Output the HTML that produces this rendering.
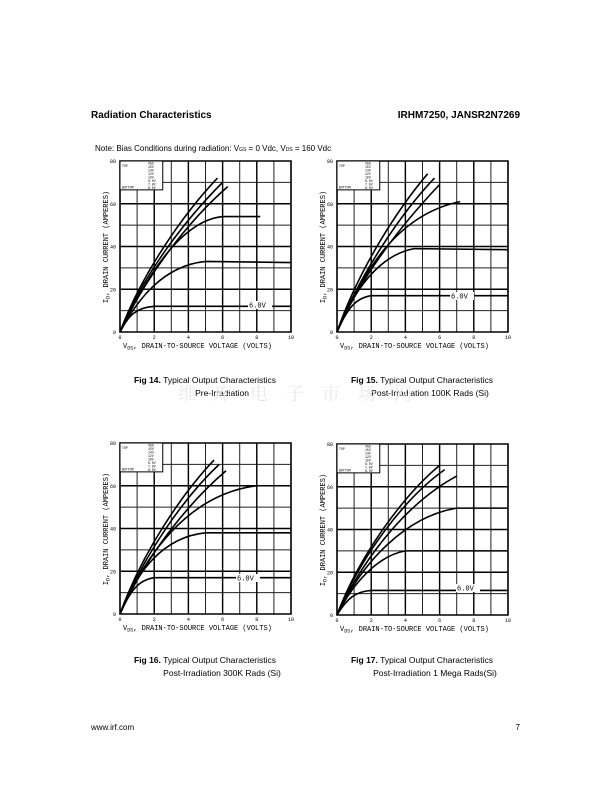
<!DOCTYPE html>
<html><head><meta charset="utf-8"><style>
html,body{margin:0;padding:0;background:#fff}
svg{display:block}
.h{font-family:"Liberation Sans",sans-serif;font-weight:bold;font-size:10px}
.n{font-family:"Liberation Sans",sans-serif;font-size:8px}
.c{font-family:"Liberation Sans",sans-serif;font-size:8.5px}
.t{font-family:"Liberation Mono",monospace;font-size:5px}
.ax{font-family:"Liberation Mono",monospace;font-size:7px}
.lg{font-family:"Liberation Mono",monospace;font-size:3.2px}
.g path{vector-effect:non-scaling-stroke}
</style></head><body>
<svg width="612" height="792" viewBox="0 0 612 792" xmlns="http://www.w3.org/2000/svg">
<defs>
<g id="grid" class="g">
<path d="M1 0V80M2 0V80M3 0V80M4 0V80M5 0V80M6 0V80M7 0V80M8 0V80M9 0V80M0 10H10M0 20H10M0 30H10M0 40H10M0 50H10M0 60H10M0 70H10" stroke="#222" stroke-width="1" fill="none"/>
<path d="M2 0V80M4 0V80M6 0V80M8 0V80M0 20H10M0 40H10M0 60H10" stroke="#000" stroke-width="1.4" fill="none"/>
<path d="M0 0H10V80H0Z" stroke="#000" stroke-width="1.6" fill="none"/>
<path d="M0 80H2.5V66.5H0Z" fill="#fff" stroke="#000" stroke-width="1"/>
</g>
<g id="lab">
<text class="t" x="-4" y="2" text-anchor="end">0</text>
<text class="t" x="-4" y="-40.75" text-anchor="end">20</text>
<text class="t" x="-4" y="-83.5" text-anchor="end">40</text>
<text class="t" x="-4" y="-126.25" text-anchor="end">60</text>
<text class="t" x="-4" y="-169" text-anchor="end">80</text>
<text class="t" x="0" y="7" text-anchor="middle">0</text>
<text class="t" x="34.2" y="7" text-anchor="middle">2</text>
<text class="t" x="68.4" y="7" text-anchor="middle">4</text>
<text class="t" x="102.6" y="7" text-anchor="middle">6</text>
<text class="t" x="136.8" y="7" text-anchor="middle">8</text>
<text class="t" x="171" y="7" text-anchor="middle">10</text>
<text class="ax" x="3" y="16">V<tspan font-size="5" dy="1.5">DS</tspan><tspan dy="-1.5">, DRAIN-TO-SOURCE VOLTAGE (VOLTS)</tspan></text>
<text class="ax" transform="translate(-12,-85) rotate(-90)" text-anchor="middle">I<tspan font-size="5" dy="1.5">D</tspan><tspan dy="-1.5">, DRAIN CURRENT (AMPERES)</tspan></text>
<text class="lg" x="2" y="-165">TOP</text>
<text class="lg" x="2" y="-143.5">BOTTOM</text>
<text class="lg" x="28" y="-167.5">VGS</text>
<text class="lg" x="28" y="-164">15V</text>
<text class="lg" x="28" y="-160.5">14V</text>
<text class="lg" x="28" y="-157">12V</text>
<text class="lg" x="28" y="-153.5">10V</text>
<text class="lg" x="28" y="-150">8.0V</text>
<text class="lg" x="28" y="-146.5">7.0V</text>
<text class="lg" x="28" y="-143">6.0V</text>
</g>
</defs>

<text class="h" x="91" y="118">Radiation Characteristics</text>
<text class="h" x="520" y="118" text-anchor="end">IRHM7250, JANSR2N7269</text>
<text class="n" x="95" y="151">Note: Bias Conditions during radiation: V<tspan font-size="5">GS</tspan> = 0 Vdc, V<tspan font-size="5">DS</tspan> = 160 Vdc</text>

<!-- Fig14 -->
<g transform="translate(120,332)">
<g transform="scale(17.1,-2.1375)"><use href="#grid"/>
<g class="g" fill="none" stroke="#000" stroke-width="1.6">
<path d="M0 0C0.5 8 1 11.5 2 12L10 12"/>
<path d="M0 0C1 15 2.5 31 5 33L10 32.5"/>
<path d="M0 0C1.5 25 3.5 52 6 54L8.2 54"/>
<path d="M0 0C1.5 26 4 52 6.3 68"/>
<path d="M0 0C1.4 28 4 54 6 70"/>
<path d="M0 0C1.3 28 3.8 56 5.7 72"/>
</g></g>
<use href="#lab"/>
<rect x="128" y="-31" width="24" height="8" fill="#fff"/><text class="ax" x="129" y="-24.5">6.0V</text>
</g>

<!-- Fig15 -->
<g transform="translate(337,332)">
<g transform="scale(17.1,-2.1375)"><use href="#grid"/>
<g class="g" fill="none" stroke="#000" stroke-width="1.6">
<path d="M0 0C0.6 11 1.1 16 2 17L10 17"/>
<path d="M0 0C1 20 2.5 36 4.5 39L10 38.5"/>
<path d="M0 0C1.5 28 3.5 55 7.2 61"/>
<path d="M0 0C1.5 28 4 52 6 69"/>
<path d="M0 0C1.4 28 3.8 56 5.7 72"/>
<path d="M0 0C1.3 30 3.6 58 5.3 74"/>
</g></g>
<use href="#lab"/>
<rect x="113" y="-40" width="24" height="8" fill="#fff"/><text class="ax" x="114" y="-33.5">6.0V</text>
</g>

<!-- Fig16 -->
<g transform="translate(120,614)">
<g transform="scale(17.1,-2.1375)"><use href="#grid"/>
<g class="g" fill="none" stroke="#000" stroke-width="1.6">
<path d="M0 0C0.6 11 1.1 16 2 17L10 17"/>
<path d="M0 0C1 20 2.5 36 5 38L10 38"/>
<path d="M0 0C1.5 28 4 56 8 60"/>
<path d="M0 0C1.5 27 4 52 6.2 67"/>
<path d="M0 0C1.4 28 3.8 55 5.8 70"/>
<path d="M0 0C1.3 29 3.7 57 5.5 72"/>
</g></g>
<use href="#lab"/>
<rect x="116" y="-40" width="24" height="8" fill="#fff"/><text class="ax" x="117" y="-33.5">6.0V</text>
</g>

<!-- Fig17 -->
<g transform="translate(337,615)">
<g transform="scale(17.1,-2.1375)"><use href="#grid"/>
<g class="g" fill="none" stroke="#000" stroke-width="1.6">
<path d="M0 0C0.6 8 1.1 11 2 11.5L10 11.5"/>
<path d="M0 0C1 16 2.5 28 4 30L10 30"/>
<path d="M0 0C1.5 25 4 46 7 50L10 50"/>
<path d="M0 0C1.5 26 4 52 7 65"/>
<path d="M0 0C1.4 28 4 55 6.3 68"/>
<path d="M0 0C1.3 28 3.9 56 6 70"/>
</g></g>
<use href="#lab"/>
<rect x="119" y="-31" width="24" height="8" fill="#fff"/><text class="ax" x="120" y="-24.5">6.0V</text>
</g>

<text class="c" x="205" y="383" text-anchor="middle"><tspan font-weight="bold">Fig 14.</tspan> Typical Output Characteristics</text>
<text class="c" x="222" y="396" text-anchor="middle">Pre-Irradiation</text>
<text class="c" x="422" y="383" text-anchor="middle"><tspan font-weight="bold">Fig 15.</tspan> Typical Output Characteristics</text>
<text class="c" x="430" y="396" text-anchor="middle">Post-Irradiation 100K Rads (Si)</text>
<text font-family="'Liberation Serif','Noto Serif CJK SC',serif" font-size="18" fill="#e8e8e8" x="178" y="400" letter-spacing="18">维库电子市场网</text>
<text class="c" x="205" y="663" text-anchor="middle"><tspan font-weight="bold">Fig 16.</tspan> Typical Output Characteristics</text>
<text class="c" x="222" y="676" text-anchor="middle">Post-Irradiation 300K Rads (Si)</text>
<text class="c" x="422" y="663" text-anchor="middle"><tspan font-weight="bold">Fig 17.</tspan> Typical Output Characteristics</text>
<text class="c" x="435" y="676" text-anchor="middle">Post-Irradiation 1 Mega Rads(Si)</text>
<text class="n" font-size="9" x="91" y="730">www.irf.com</text>
<text class="n" font-size="9" x="520" y="730" text-anchor="end">7</text>
</svg>
</body></html>
